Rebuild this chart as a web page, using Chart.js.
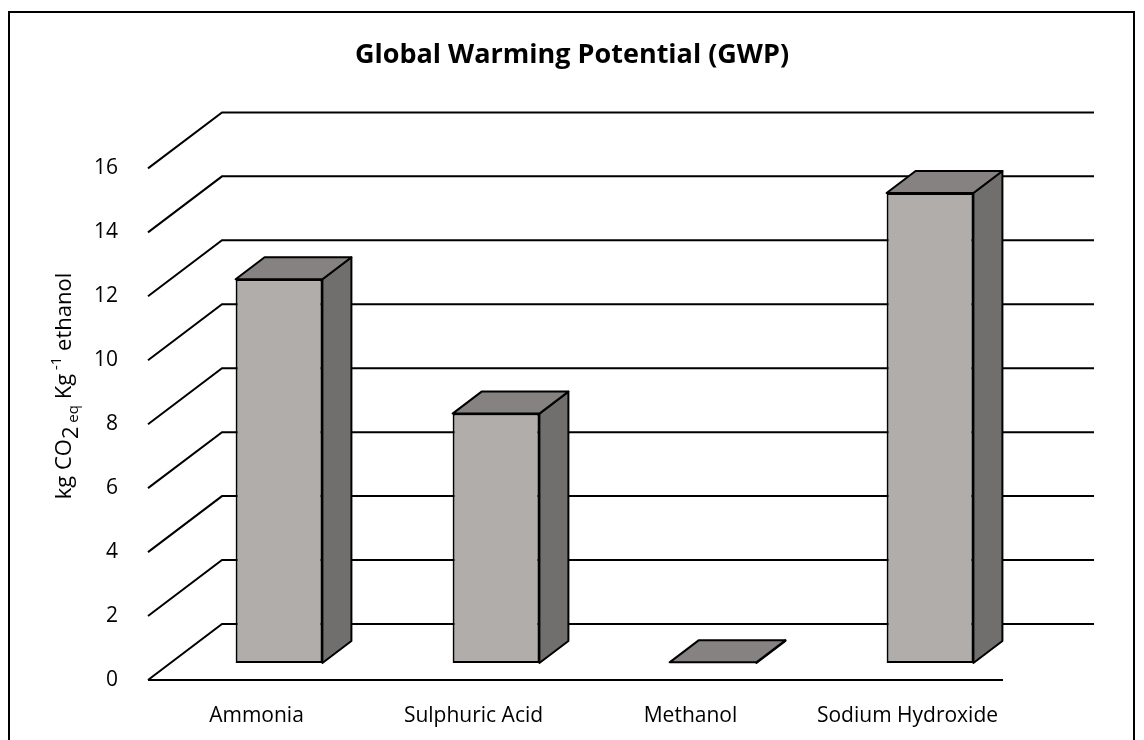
<!DOCTYPE html>
<html>
<head>
<meta charset="utf-8">
<script src="https://cdn.jsdelivr.net/npm/chart.js@4/dist/chart.umd.min.js"></script>
<style>
  body { margin: 0; background: #fff; }
  #wrap { width: 1144px; height: 740px; }
</style>
</head>
<body>
<div id="wrap"><canvas id="myChart"></canvas></div>
<script>
var categories = ['Ammonia', 'Sulphuric Acid', 'Methanol', 'Sodium Hydroxide'];
var gwpValues = [12.0, 7.8, 0.02, 14.7];
var yMin = 0, yMax = 16, yStep = 2;

var FONT = "'Open Sans', sans-serif";
// floor depth and bar depth (oblique projection)
var floorDX = 74, floorDY = -56;
var barShiftX = 22.5, barShiftY = -17;
var barDX = 29, barDY = -22;

var fake3d = {
  id: 'fake3d',
  beforeDraw: function(chart) {
    var c = chart.ctx;
    c.save();
    c.fillStyle = '#fff';
    c.fillRect(0, 0, chart.width, chart.height);
    c.strokeStyle = '#000';
    c.lineWidth = 2;
    c.strokeRect(9, 12, 1125, 760);
    c.restore();
  },
  beforeDatasetsDraw: function(chart) {
    var c = chart.ctx, a = chart.chartArea, y = chart.scales.y;
    c.save();
    c.strokeStyle = '#000';
    c.lineWidth = 2;
    c.beginPath();
    for (var v = yMin; v <= yMax; v += yStep) {
      var py = y.getPixelForValue(v);
      c.moveTo(a.left, py);
      c.lineTo(a.left + floorDX, py + floorDY);
      c.lineTo(a.right + floorDX + 4, py + floorDY);
    }
    // floor front edge
    var p0 = y.getPixelForValue(0);
    c.moveTo(a.left, p0);
    c.lineTo(a.right - 13, p0);
    c.stroke();
    c.restore();
    c.save();
    c.translate(barShiftX, barShiftY);
  },
  afterDatasetsDraw: function(chart) {
    var c = chart.ctx;
    c.restore();
    c.save();
    c.strokeStyle = '#000';
    c.lineWidth = 2;
    c.lineJoin = 'round';
    chart.getDatasetMeta(0).data.forEach(function(bar) {
      var l = bar.x - bar.width / 2 + barShiftX;
      var r = bar.x + bar.width / 2 + barShiftX;
      var t = bar.y + barShiftY;
      var b = bar.base + barShiftY;
      // side
      c.beginPath();
      c.moveTo(r, t);
      c.lineTo(r + barDX, t + barDY);
      c.lineTo(r + barDX, b + barDY);
      c.lineTo(r, b);
      c.closePath();
      c.fillStyle = '#716e6e';
      c.fill();
      c.stroke();
      // top
      c.beginPath();
      c.moveTo(l, t);
      c.lineTo(l + barDX, t + barDY);
      c.lineTo(r + barDX, t + barDY);
      c.lineTo(r, t);
      c.closePath();
      c.fillStyle = '#868281';
      c.fill();
      c.stroke();
    });
    c.restore();
  },
  afterDraw: function(chart) {
    // y axis title with sub/superscripts
    var c = chart.ctx;
    var parts = [
      { t: 'kg CO', s: 22, dy: 0 },
      { t: '2', s: 22, dy: 7 },
      { t: ' eq', s: 15, dy: 7 },
      { t: ' Kg', s: 22, dy: 0 },
      { t: ' -1', s: 15, dy: -10 },
      { t: ' ethanol', s: 22, dy: 0 }
    ];
    c.save();
    c.translate(71, 386);
    c.rotate(-Math.PI / 2);
    c.fillStyle = '#000';
    c.textBaseline = 'alphabetic';
    var total = 0;
    parts.forEach(function(p) { c.font = p.s + 'px ' + FONT; total += c.measureText(p.t).width; });
    var x = -total / 2;
    parts.forEach(function(p) {
      c.font = p.s + 'px ' + FONT;
      c.fillText(p.t, x, p.dy);
      x += c.measureText(p.t).width;
    });
    c.restore();
  }
};

var ctx = document.getElementById('myChart').getContext('2d');
var myChart = new Chart(ctx, {
  type: 'bar',
  data: {
    labels: categories,
    datasets: [{
      data: gwpValues,
      backgroundColor: '#b0adab',
      borderColor: '#000',
      borderWidth: 2,
      borderSkipped: false,
      barPercentage: 0.4,
      categoryPercentage: 1,
      clip: false
    }]
  },
  options: {
    responsive: true,
    maintainAspectRatio: false,
    animation: false,
    layout: { padding: 0 },
    plugins: {
      legend: { display: false },
      tooltip: { enabled: false },
      title: {
        display: true,
        text: 'Global Warming Potential (GWP)',
        color: '#000',
        font: { family: FONT, size: 27, weight: 'bold' },
        padding: { top: 39, bottom: 97 }
      }
    },
    scales: {
      x: {
        grid: { display: false },
        border: { display: false },
        ticks: { color: '#000', padding: 15, font: { family: FONT, size: 21 } },
        afterFit: function(s) { s.height = 60; }
      },
      y: {
        min: yMin,
        max: yMax,
        grid: { display: false },
        border: { display: false },
        ticks: { stepSize: yStep, color: '#000', padding: 22, font: { family: FONT, size: 21 } },
        afterFit: function(s) { s.width = 148; }
      },
      // empty right-hand space for the depth of the 3D floor
      yRight: {
        position: 'right',
        min: yMin,
        max: yMax,
        grid: { display: false },
        border: { display: false },
        ticks: { display: false },
        afterFit: function(s) { s.width = 128; }
      }
    }
  },
  plugins: [fake3d]
});
</script>
</body>
</html>
